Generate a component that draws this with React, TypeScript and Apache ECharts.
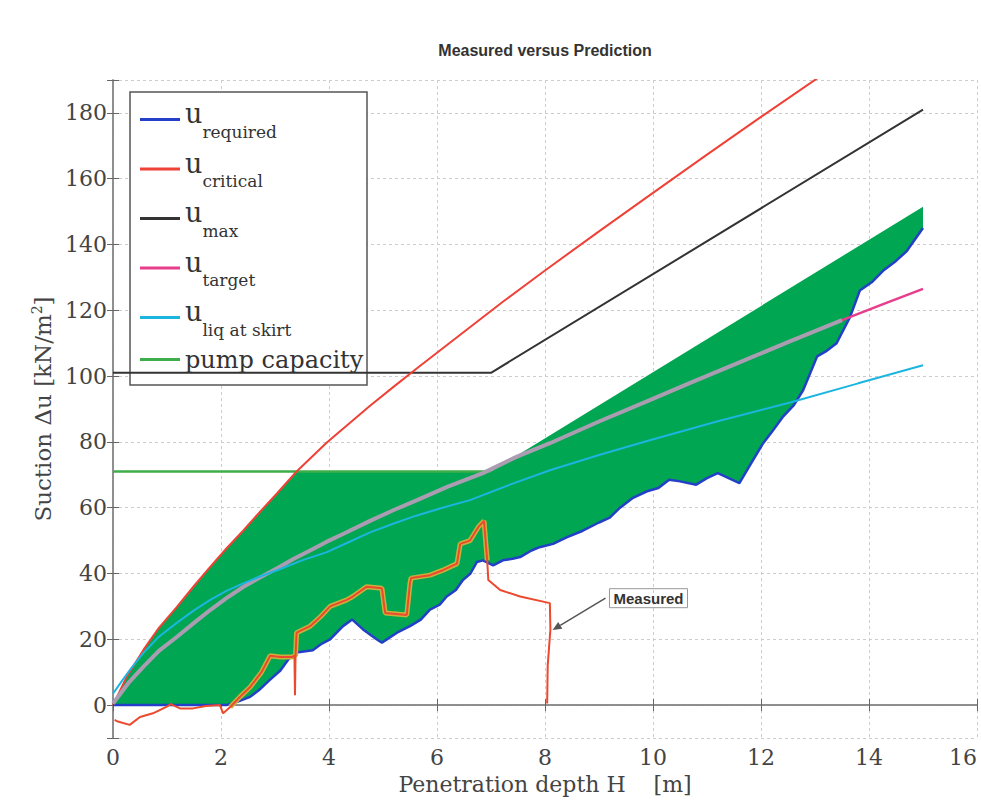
import React, { useEffect, useRef } from 'react';
import * as echarts from 'echarts';

// ---------- data ----------
const requiredX = [0, 2.1, 2.3, 2.54, 2.7, 2.9, 3.1, 3.28, 3.4, 3.7, 3.85, 4.02, 4.26, 4.43, 4.63, 4.88, 4.98, 5.26, 5.5, 5.7, 5.87, 6.05, 6.18, 6.35, 6.48, 6.62, 6.74, 6.85, 7.04, 7.22, 7.4, 7.54, 7.75, 7.9, 8.15, 8.4, 8.7, 9.0, 9.2, 9.39, 9.63, 9.89, 10.1, 10.3, 10.5, 10.8, 11.0, 11.2, 11.4, 11.6, 11.8, 12.04, 12.2, 12.4, 12.6, 12.78, 13.04, 13.2, 13.4, 13.65, 13.83, 14.05, 14.26, 14.5, 14.7, 15];
const requiredY = [0, 0, 1, 2.5, 4.5, 7.6, 10.5, 14.6, 16, 16.7, 18.5, 20, 24, 26, 23, 20, 19, 22, 24, 26, 29, 30.5, 33, 35, 38, 40, 43.5, 44, 42.5, 44, 44.5, 45, 47, 48, 49, 51, 53, 55.5, 57, 60, 63, 65, 66, 68.5, 68, 67, 69, 70.5, 69, 67.5, 73, 79.6, 83, 87.5, 91, 95.7, 106, 107.5, 110, 118, 126, 128.5, 132, 135, 138, 145];

const criticalX = [0, 0.25, 0.56, 0.85, 1.18, 1.5, 1.8, 2.1, 2.41, 2.72, 3.04, 3.4, 3.96, 4.39, 4.76, 5.2, 5.63, 6.4, 7.22, 8, 9, 10, 11, 12, 13.05, 13.4];
const criticalY = [0, 8.5, 16.7, 23.5, 29.8, 36.2, 42, 47.6, 53, 58.7, 64.4, 71, 79.8, 85.8, 91, 96.8, 102.4, 112.2, 122.6, 132.1, 144, 155.7, 167.3, 178.8, 190.6, 194.6];

const fillUpperX = [0, 0.25, 0.56, 0.85, 1.18, 1.5, 1.8, 2.1, 2.41, 2.72, 3.04, 3.4, 7.0, 15];
const fillUpperY = [0, 8.5, 16.7, 23.5, 29.8, 36.2, 42, 47.6, 53, 58.7, 64.4, 71, 71, 151.5];

const maxX = [0, 7, 15];
const maxY = [101, 101, 181];

const targetX = [0, 0.3, 0.56, 0.85, 1.18, 1.5, 1.8, 2.1, 2.41, 2.72, 3.04, 3.35, 3.65, 3.95, 4.26, 4.76, 5.2, 5.63, 6.2, 6.85, 7.45, 8.09, 9.0, 9.94, 10.7, 11.5, 12.5, 13.5, 14.25, 15];
const targetY = [0.5, 7, 11.6, 16.5, 20.7, 25, 28.9, 32.5, 35.9, 38.8, 41.6, 44.5, 47, 49.6, 52, 56, 59.3, 62.3, 66.4, 70.5, 75.3, 79.6, 86.2, 92.7, 98, 103.5, 110.3, 117, 121.8, 126.5];
const targetGreyEnd = 13.5;

const liqX = [0, 0.15, 0.35, 0.56, 0.85, 1.18, 1.5, 1.8, 2.1, 2.41, 2.72, 3.04, 3.5, 3.96, 4.36, 4.76, 5.2, 5.6, 6.1, 6.61, 7.35, 8.09, 9.0, 9.94, 11.2, 12.54, 13.8, 15];
const liqY = [3.5, 7, 11.5, 15.8, 20.8, 25, 28.8, 32, 34.7, 37, 39.1, 41, 44, 46.5, 49.5, 52.5, 55.2, 57.5, 60, 62.3, 67, 71.4, 76, 80.5, 86.3, 92, 97.8, 103.3];

const pumpX = [0, 7];
const pumpY = [71, 71];

const measuredX = [0.03, 0.09, 0.31, 0.5, 0.74, 0.98, 1.07, 1.24, 1.48, 1.72, 1.98, 2.04, 2.17, 2.35, 2.54, 2.75, 2.91, 3.09, 3.31, 3.36, 3.37, 3.38, 3.4, 3.65, 3.85, 4.02, 4.33, 4.44, 4.7, 4.98, 5.04, 5.44, 5.5, 5.52, 5.87, 6.11, 6.37, 6.43, 6.61, 6.76, 6.87, 6.93, 6.95, 7.17, 7.54, 8.09, 8.1, 8.05, 8.04];
const measuredY = [-4.5, -5, -6, -3.6, -2.5, -0.6, 0.3, -1, -1, -0.3, 0, -2.5, -0.6, 2.5, 5.5, 10, 15, 14.6, 14.6, 15, 3, 15, 22, 24, 27, 30, 32, 33, 36, 35.5, 28, 27.4, 37, 38.6, 39.5, 41, 43, 49, 50, 54, 56, 44, 38, 35, 33, 31, 23, 12, 0.5];

const xTickStep = 2;
const legendNames = ['u_required', 'u_critical', 'u_max', 'u_target', 'u_liq at skirt', 'pump capacity'];
const legendSubs: Record<string, string> = {
  u_required: 'required',
  u_critical: 'critical',
  u_max: 'max',
  u_target: 'target',
  'u_liq at skirt': 'liq at skirt',
};

const zip = (xs: number[], ys: number[]) => xs.map((x, i) => [x, ys[i]]);

const SERIF = 'DejaVu Serif';
const C = {
  required: '#2440c8',
  critical: '#ef4136',
  max: '#333333',
  target: '#e63e8c',
  liq: '#1cb5e0',
  pump: '#3dae49',
  fill: '#00a651',
  grey: '#aa9db2',
  measured: '#ec4a2e',
  halo: '#c9b03c',
};

function lineSeries(name: string, data: number[][], color: string, width: number, extra: any = {}) {
  return {
    type: 'line',
    name,
    data,
    color,
    showSymbol: false,
    symbol: 'none',
    lineStyle: { color, width },
    ...extra,
  };
}

export default function App() {
  const ref = useRef<HTMLDivElement>(null);

  useEffect(() => {
    const chart = echarts.init(ref.current!, null, { renderer: 'svg' });

    const haloData = zip(measuredX, measuredY).filter(
      (p) => p[0] >= 2.17 && p[0] <= 6.93 && !(p[0] === 3.37)
    );
    const greyData = zip(targetX, targetY).filter((p) => p[0] <= targetGreyEnd);

    const splitLine = { show: true, lineStyle: { color: '#cccccc', type: [3, 3], width: 1 } };
    const axisLine = { show: true, lineStyle: { color: '#888', width: 1.5 } };
    const axisTick = { show: true, inside: true, length: 6, lineStyle: { color: '#666' } };

    const option: any = {
      animation: false,
      backgroundColor: '#ffffff',
      title: {
        text: 'Measured versus Prediction',
        left: 545,
        top: 42,
        textAlign: 'center',
        padding: 0,
        textStyle: { fontFamily: 'Liberation Sans', fontWeight: 'bold', fontSize: 16, color: '#333' },
      },
      grid: { left: 113, right: 4, top: 80, bottom: 62, containLabel: false, outerBoundsMode: 'none' },
      legend: {
        data: legendNames,
        orient: 'vertical',
        left: 135,
        top: 95,
        padding: 5,
        itemGap: 9.5,
        itemWidth: 40,
        itemHeight: 3,
        icon: 'rect',
        selectedMode: false,
        formatter: (name: string) => {
          const sub = legendSubs[name];
          return sub ? `{u|u}{s|${sub}}` : `{p|${name}}`;
        },
        textStyle: {
          fontFamily: SERIF,
          color: '#333',
          rich: {
            u: { fontFamily: SERIF, fontSize: 27, color: '#333', padding: [0, 0, 12, 0] },
            s: { fontFamily: SERIF, fontSize: 17, color: '#333', padding: [24, 0, 0, 0] },
            p: { fontFamily: SERIF, fontSize: 24, color: '#333' },
          },
        },
      },
      xAxis: [
        {
          type: 'value',
          min: 0,
          max: 16,
          interval: xTickStep,
          name: 'Penetration depth H    [m]',
          nameLocation: 'middle',
          nameGap: 35,
          nameTextStyle: { fontFamily: SERIF, fontSize: 22, color: '#444' },
          axisLine,
          axisTick,
          axisLabel: { fontFamily: SERIF, fontSize: 22, color: '#444', margin: 8, alignMaxLabel: 'right' },
          splitLine,
        },
        {
          type: 'value',
          position: 'top',
          min: 0,
          max: 16,
          interval: xTickStep,
          axisLine,
          axisTick,
          axisLabel: { show: false },
          splitLine: { show: false },
        },
      ],
      yAxis: [
        {
          type: 'value',
          min: -10,
          max: 190,
          splitNumber: 10,
          name: 'Suction \u0394u [kN/m{sup|2}]',
          nameLocation: 'middle',
          nameGap: 55,
          nameRotate: 90,
          nameTextStyle: {
            fontFamily: SERIF,
            fontSize: 23,
            color: '#444',
            rich: { sup: { fontFamily: SERIF, fontSize: 14, color: '#444', padding: [0, 0, 12, 0] } },
          },
          axisLine,
          axisTick,
          axisLabel: {
            fontFamily: SERIF,
            fontSize: 22,
            color: '#444',
            margin: 6,
            formatter: (v: number) => (Math.abs(v % 20) < 1e-9 ? String(v) : ''),
          },
          splitLine,
        },
        {
          type: 'value',
          position: 'right',
          min: -10,
          max: 190,
          splitNumber: 10,
          axisLine,
          axisTick,
          axisLabel: { show: false },
          splitLine: { show: false },
        },
      ],
      series: [
        {
          type: 'custom',
          name: 'fill',
          silent: true,
          data: [[0, 0]],
          renderItem: (_params: any, api: any) => {
            const pts: number[][] = [];
            for (let i = 0; i < fillUpperX.length; i++) pts.push(api.coord([fillUpperX[i], fillUpperY[i]]));
            for (let i = requiredX.length - 1; i >= 0; i--) pts.push(api.coord([requiredX[i], requiredY[i]]));
            return { type: 'polygon', shape: { points: pts }, style: { fill: C.fill } };
          },
        },
        lineSeries('pump capacity', zip(pumpX, pumpY), C.pump, 2.5),
        lineSeries('u_max', zip(maxX, maxY), C.max, 2),
        lineSeries('u_critical', zip(criticalX, criticalY), C.critical, 2),
        lineSeries('u_required', zip(requiredX, requiredY), C.required, 2.5),
        lineSeries('u_target', zip(targetX, targetY), C.target, 2.5),
        lineSeries('target overlay', greyData, C.grey, 4),
        lineSeries('u_liq at skirt', zip(liqX, liqY), C.liq, 2),
        lineSeries('measured halo', haloData, C.halo, 5),
        lineSeries('Measured', zip(measuredX, measuredY), C.measured, 2),
      ],
    };

    chart.setOption(option);

    const tip = chart.convertToPixel({ seriesIndex: 1 }, [8.14, 22.8]) as number[];
    const tail = chart.convertToPixel({ seriesIndex: 1 }, [9.12, 32.5]) as number[];
    const dx = tip[0] - tail[0];
    const dy = tip[1] - tail[1];
    const len = Math.sqrt(dx * dx + dy * dy);
    const ux = dx / len;
    const uy = dy / len;
    const ah = 9;
    const aw = 4;
    const base = [tip[0] - ux * ah, tip[1] - uy * ah];
    const head = [
      tip,
      [base[0] - uy * aw, base[1] + ux * aw],
      [base[0] + uy * aw, base[1] - ux * aw],
    ];

    chart.setOption({
      graphic: [
        {
          id: 'legendBox',
          type: 'rect',
          z: 3,
          shape: { x: 130, y: 92, width: 237, height: 293 },
          style: { fill: '#ffffff', stroke: '#555', lineWidth: 1.5 },
          silent: true,
        },
        {
          id: 'arrowLine',
          type: 'line',
          z: 5,
          shape: { x1: tail[0], y1: tail[1], x2: base[0], y2: base[1] },
          style: { stroke: '#555', lineWidth: 1.5 },
          silent: true,
        },
        {
          id: 'arrowHead',
          type: 'polygon',
          z: 5,
          shape: { points: head },
          style: { fill: '#555' },
          silent: true,
        },
        {
          id: 'measuredText',
          type: 'text',
          z: 5,
          x: tail[0] + 4,
          y: tail[1],
          style: {
            text: 'Measured',
            fill: '#333',
            font: 'bold 15px "Liberation Sans"',
            verticalAlign: 'middle',
            align: 'left',
            borderColor: '#999',
            borderWidth: 1,
            padding: [2, 4],
          },
          silent: true,
        },
      ],
    });

    return () => chart.dispose();
  }, []);

  return <div ref={ref} style={{ position: 'fixed', left: 0, top: 0, width: 981, height: 800 }} />;
}
